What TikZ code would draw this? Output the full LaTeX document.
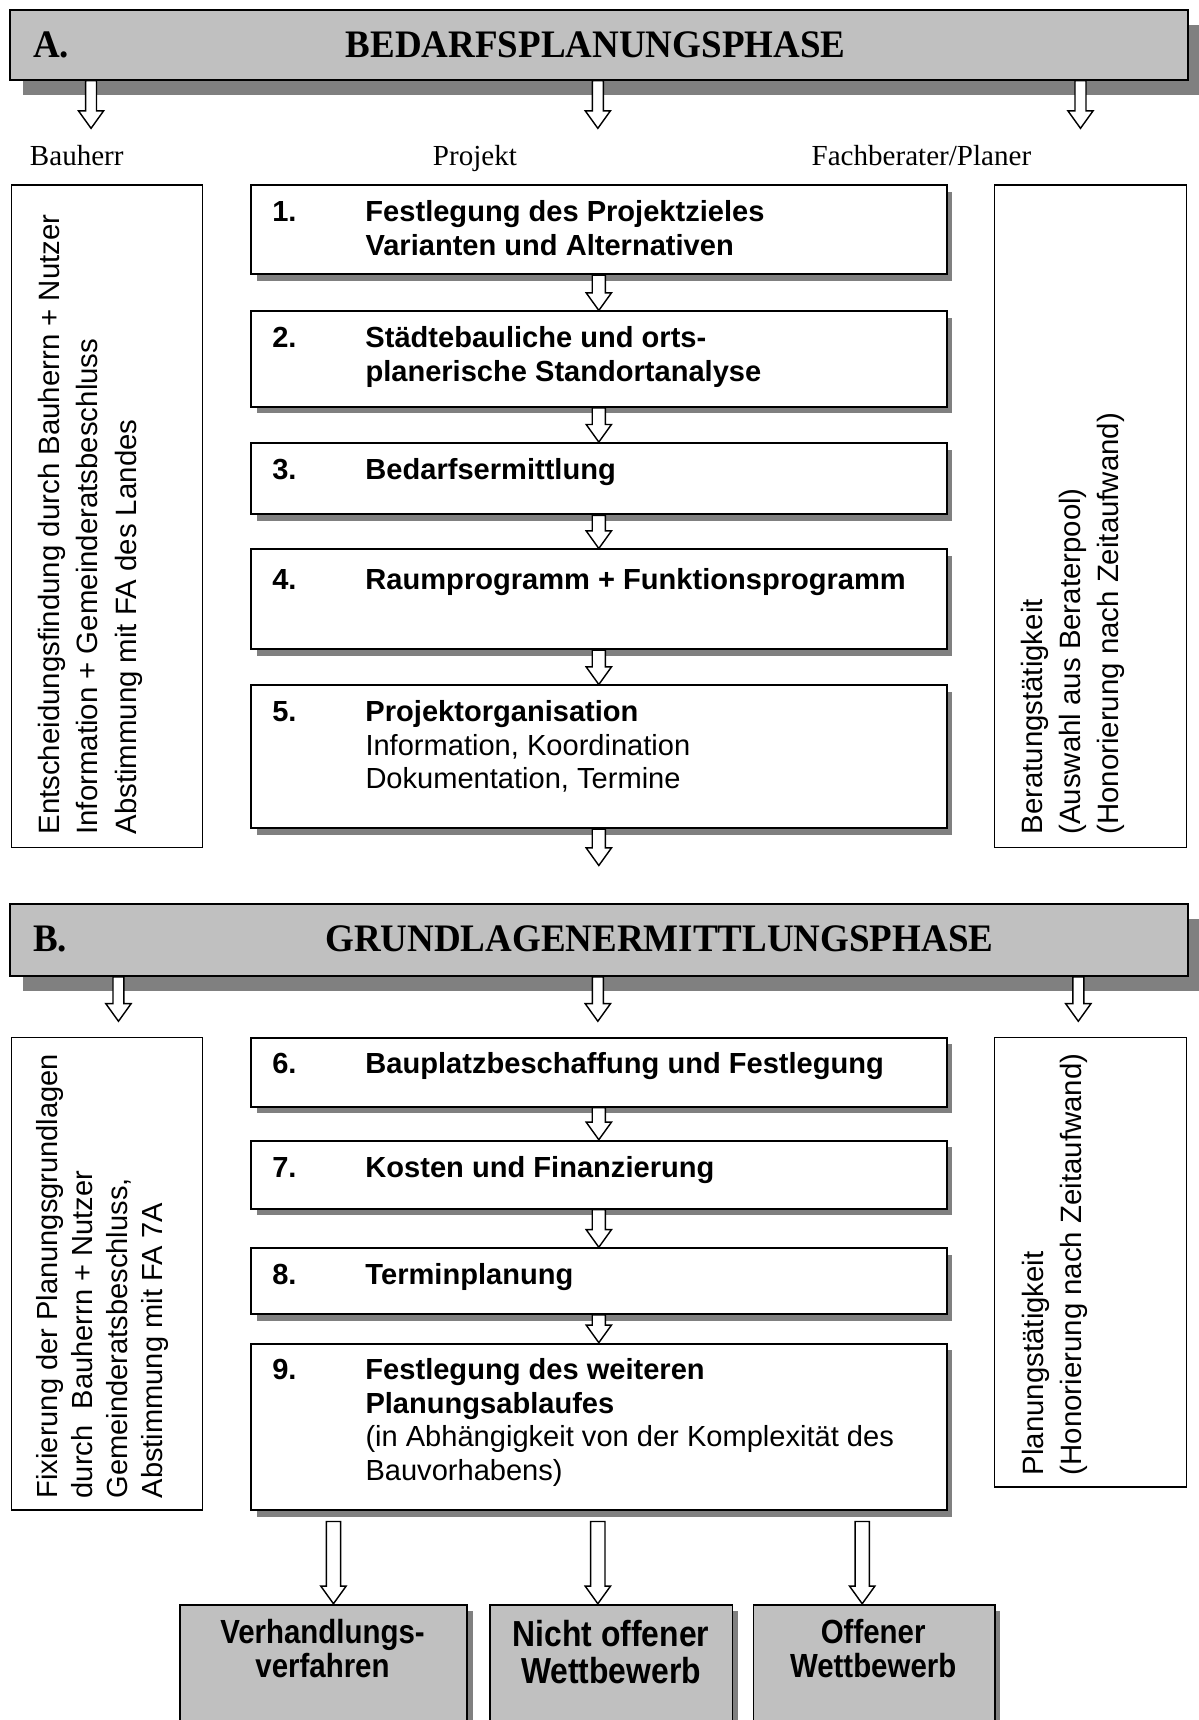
\documentclass[tikz,border=0pt]{standalone}
\usepackage{fontspec}
\setmainfont{Liberation Sans}
\newfontfamily\serifrm{Liberation Serif}
\newfontfamily\serifnarrowbf{Liberation Serif Bold}[FakeStretch=0.95]
\newfontfamily\narrowbf{Liberation Sans Bold}[FakeStretch=0.88]
\usetikzlibrary{calc,shadows}
\definecolor{hdrgray}{RGB}{192,192,192}
\definecolor{shadegray}{RGB}{128,128,128}
\newcommand\hollowarrow[3]{%
  \draw[hollow] let \p1=(#2), \p2=(#3) in
    (\x1-#1pt,\y1) -- (\x1-#1pt,\y2+16pt) -- (\x1-11.5pt,\y2+16pt) -- (\x1,\y2)
    -- (\x1+11.5pt,\y2+16pt) -- (\x1+#1pt,\y2+16pt) -- (\x1+#1pt,\y1) -- cycle;}
\tikzset{
  header/.style={draw, line width=1.6pt, fill=hdrgray, anchor=north west, inner sep=0pt,
    minimum width=1074pt,
    drop shadow={shadow xshift=12pt, shadow yshift=-14pt, opacity=1, fill=shadegray}},
  hdrtext/.style={font=\serifnarrowbf\fontsize{35.5}{40}\selectfont, inner sep=0pt},
  colhead/.style={font=\serifrm\fontsize{26.5}{31}\selectfont, inner sep=0pt, anchor=base},
  sidebox/.style={draw, line width=1.3pt, anchor=north west, inner sep=0pt},
  sidetext/.style={font=\fontsize{26.8}{35}\selectfont, inner sep=0pt, rotate=90, anchor=base west},
  stepbox/.style={draw, line width=1.8pt, fill=white, anchor=north west, inner sep=0pt,
    minimum width=634pt,
    drop shadow={shadow xshift=5pt, shadow yshift=-6pt, opacity=1, fill=shadegray}},
  steptext/.style={font=\fontsize{26.5}{30.5}\selectfont, inner sep=0pt, anchor=base west},
  resultbox/.style={draw, line width=1.6pt, fill=hdrgray, anchor=north west, inner sep=0pt,
    minimum height=130pt,
    drop shadow={shadow xshift=5pt, shadow yshift=-6pt, opacity=1, fill=shadegray}},
  resulttext/.style={font=\narrowbf\fontsize{30.5}{31}\selectfont, inner sep=0pt, anchor=base},
  hollow/.style={draw, fill=white, line width=1.3pt, line join=miter},
}
\begin{document}
\begin{tikzpicture}[x=1pt,y=-1pt]
\useasboundingbox (0,0) rectangle (1093,1568);

% ---------------- Phase A ----------------
\node[header, minimum height=64pt] (hA) at (8,8) {};
\node[hdrtext, anchor=base west] (hAnum) at (30,52) {A.};
\node[hdrtext, anchor=base] (hAtitle) at (543,52) {BEDARFSPLANUNGSPHASE};

\coordinate (tA1) at (83,117);
\coordinate (tA2) at (545,117);
\coordinate (tA3) at (985,117);
\hollowarrow{5}{hA.south -| tA1}{tA1}
\hollowarrow{5}{hA.south -| tA2}{tA2}
\hollowarrow{5}{hA.south -| tA3}{tA3}

\node[colhead] (cBau) at (70,151) {Bauherr};
\node[colhead] (cPro) at (433,151) {Projekt};
\node[colhead] (cFach) at (840,151) {Fachberater/Planer};

\node[sidebox, minimum width=174pt, minimum height=604pt] (lA) at (10,168) {};
\node[sidetext] (lAtext) at (54,761) {\begin{tabular}[t]{@{}l@{}}Entscheidungsfindung durch Bauherrn + Nutzer\\Information + Gemeinderatsbeschluss\\Abstimmung mit FA des Landes\end{tabular}};

\node[sidebox, minimum width=175pt, minimum height=604pt] (rA) at (906,168) {};
\node[sidetext] (rAtext) at (950,761) {\begin{tabular}[t]{@{}l@{}}Beratungstätigkeit\\(Auswahl aus Beraterpool)\\(Honorierung nach Zeitaufwand)\end{tabular}};

\node[stepbox, minimum height=81pt] (b1) at (228,168) {};
\node[stepbox, minimum height=87pt] (b2) at (228,283) {};
\node[stepbox, minimum height=65pt] (b3) at (228,403) {};
\node[stepbox, minimum height=91pt] (b4) at (228,500) {};
\node[stepbox, minimum height=130pt] (b5) at (228,624) {};

\node[steptext] (t1) at (248,202) {\begin{tabular}[t]{@{}p{85pt}@{}l@{}}\bfseries 1.&\bfseries Festlegung des Projektzieles\\&\bfseries Varianten und Alternativen\end{tabular}};
\node[steptext] (t2) at (248,317) {\begin{tabular}[t]{@{}p{85pt}@{}l@{}}\bfseries 2.&\bfseries Städtebauliche und orts-\\&\bfseries planerische Standortanalyse\end{tabular}};
\node[steptext] (t3) at (248,437) {\begin{tabular}[t]{@{}p{85pt}@{}l@{}}\bfseries 3.&\bfseries Bedarfsermittlung\end{tabular}};
\node[steptext] (t4) at (248,537) {\begin{tabular}[t]{@{}p{85pt}@{}l@{}}\bfseries 4.&\bfseries Raumprogramm + Funktionsprogramm\end{tabular}};
\node[steptext] (t5) at (248,658) {\begin{tabular}[t]{@{}p{85pt}@{}l@{}}\bfseries 5.&\bfseries Projektorganisation\\&Information, Koordination\\&Dokumentation, Termine\end{tabular}};

\hollowarrow{6}{b1.south}{b2.north}
\hollowarrow{6}{b2.south}{b3.north}
\hollowarrow{6}{b3.south}{b4.north}
\hollowarrow{6}{b4.south}{b5.north}
\coordinate (t5end) at (545,789);
\hollowarrow{6}{b5.south}{t5end}

% ---------------- Phase B ----------------
\node[header, minimum height=66pt] (hB) at (8,823) {};
\node[hdrtext, anchor=base west] (hBnum) at (30,867) {B.};
\node[hdrtext, anchor=base] (hBtitle) at (601,867) {GRUNDLAGENERMITTLUNGSPHASE};

\coordinate (tB1) at (108,931);
\coordinate (tB2) at (545,931);
\coordinate (tB3) at (983,931);
\hollowarrow{5}{hB.south -| tB1}{tB1}
\hollowarrow{5}{hB.south -| tB2}{tB2}
\hollowarrow{5}{hB.south -| tB3}{tB3}

\node[sidebox, minimum width=174pt, minimum height=431pt] (lB) at (10,945) {};
\node[sidetext, font=\fontsize{26.5}{32}\selectfont] (lBtext) at (52,1366) {\begin{tabular}[t]{@{}l@{}}Fixierung der Planungsgrundlagen\\durch\ \ Bauherrn + Nutzer\\Gemeinderatsbeschluss,\\Abstimmung mit FA 7A\end{tabular}};

\node[sidebox, minimum width=175pt, minimum height=410pt] (rB) at (906,945) {};
\node[sidetext] (rBtext) at (951,1345) {\begin{tabular}[t]{@{}l@{}}Planungstätigkeit\\(Honorierung nach Zeitaufwand)\end{tabular}};

\node[stepbox, minimum height=63pt] (b6) at (228,945) {};
\node[stepbox, minimum height=62pt] (b7) at (228,1039) {};
\node[stepbox, minimum height=60pt] (b8) at (228,1137) {};
\node[stepbox, minimum height=152pt] (b9) at (228,1224) {};

\node[steptext] (t6) at (248,979) {\begin{tabular}[t]{@{}p{85pt}@{}l@{}}\bfseries 6.&\bfseries Bauplatzbeschaffung und Festlegung\end{tabular}};
\node[steptext] (t7) at (248,1073) {\begin{tabular}[t]{@{}p{85pt}@{}l@{}}\bfseries 7.&\bfseries Kosten und Finanzierung\end{tabular}};
\node[steptext] (t8) at (248,1171) {\begin{tabular}[t]{@{}p{85pt}@{}l@{}}\bfseries 8.&\bfseries Terminplanung\end{tabular}};
\node[steptext] (t9) at (248,1258) {\begin{tabular}[t]{@{}p{85pt}@{}l@{}}\bfseries 9.&\bfseries Festlegung des weiteren\\&\bfseries Planungsablaufes\\&(in Abhängigkeit von der Komplexität des\\&Bauvorhabens)\end{tabular}};

\hollowarrow{6}{b6.south}{b7.north}
\hollowarrow{6}{b7.south}{b8.north}
\hollowarrow{6}{b8.south}{b9.north}

% ---------------- Results ----------------
\node[resultbox, minimum width=262pt] (r1) at (163,1462) {};
\node[resultbox, minimum width=221pt] (r2) at (446,1462) {};
\node[resultbox, minimum width=220pt] (r3) at (686,1462) {};

\node[resulttext] (r1text) at (294,1498) {\begin{tabular}[t]{@{}c@{}}Verhandlungs-\\verfahren\end{tabular}};
\node[resulttext, font=\narrowbf\fontsize{33}{34}\selectfont] (r2text) at (557,1501) {\begin{tabular}[t]{@{}c@{}}Nicht offener\\Wettbewerb\end{tabular}};
\node[resulttext] (r3text) at (796,1498) {\begin{tabular}[t]{@{}c@{}}Offener\\Wettbewerb\end{tabular}};

\coordinate (s1) at (304,1387);
\coordinate (s2) at (545,1387);
\coordinate (s3) at (786,1387);
\hollowarrow{6.5}{s1}{s1 |- r1.north}
\hollowarrow{6.5}{s2}{s2 |- r2.north}
\hollowarrow{6.5}{s3}{s3 |- r3.north}
\end{tikzpicture}
\end{document}
